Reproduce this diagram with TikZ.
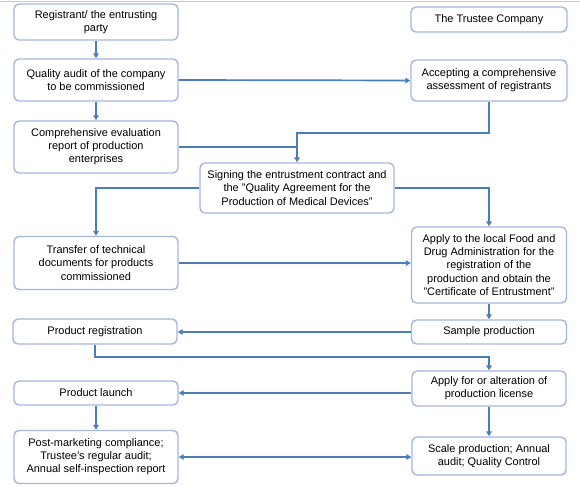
\documentclass[tikz,border=0pt]{standalone}
\usepackage{fontspec}
\setmainfont{Liberation Sans}
\usetikzlibrary{arrows.meta,calc}
\definecolor{boxline}{HTML}{A3B8DC}
\definecolor{arrline}{HTML}{4A7EBB}
\begin{document}
\begin{tikzpicture}[x=1bp,y=-1bp,
  box/.style={draw=boxline,line width=1.4bp,rounded corners=5bp,fill=white,
    align=center,inner sep=1bp,font=\fontsize{11}{13.2}\selectfont},
  arr/.style={draw=arrline,line width=1.7bp,-{Triangle[length=5bp,width=5.5bp]}},
  ln/.style={draw=arrline,line width=1.7bp},
  darr/.style={draw=arrline,line width=1.7bp,{Triangle[length=5bp,width=5.5bp]}-{Triangle[length=5bp,width=5.5bp]}}]
\useasboundingbox (0,0) rectangle (580,487);
\draw[gray!40,line width=0.8bp] (0,1.5) -- (580,1.5);

\node[box,minimum width=164bp,minimum height=36bp] (reg) at (96,22) {Registrant/ the entrusting\\party};
\node[box,minimum width=164bp,minimum height=42bp] (qa) at (96,80) {Quality audit of the company\\to be commissioned};
\node[box,minimum width=164bp,minimum height=52bp] (ce) at (96,147) {Comprehensive evaluation\\report of production\\enterprises};
\node[box,minimum width=194bp,minimum height=50bp] (sign) at (297,188) {Signing the entrustment contract and\\the "Quality Agreement for the\\Production of Medical Devices"};
\node[box,minimum width=156bp,minimum height=25bp] (trustee) at (489,19.5) {The Trustee Company};
\node[box,minimum width=156bp,minimum height=41bp] (acc) at (489,80.5) {Accepting a comprehensive\\assessment of registrants};
\node[box,minimum width=164bp,minimum height=53bp] (tr) at (96,263) {Transfer of technical\\documents for products\\commissioned};
\node[box,minimum width=155bp,minimum height=76bp] (apply) at (489,265) {Apply to the local Food and\\Drug Administration for the\\registration of the\\production and obtain the\\"Certificate of Entrustment"};
\node[box,minimum width=155bp,minimum height=24bp] (sample) at (489,332) {Sample production};
\node[box,minimum width=164bp,minimum height=25bp] (preg) at (95,331.5) {Product registration};
\node[box,minimum width=154bp,minimum height=35bp] (lic) at (489,388.5) {Apply for or alteration of\\production license};
\node[box,minimum width=164bp,minimum height=24bp] (launch) at (96,393) {Product launch};
\node[box,minimum width=164bp,minimum height=53bp] (post) at (96,457) {Post-marketing compliance;\\Trustee's regular audit;\\Annual self-inspection report};
\node[box,minimum width=154bp,minimum height=38bp] (scale) at (489,456) {Scale production; Annual\\audit; Quality Control};

\coordinate (j1) at (297,133);
\coordinate (j2) at (95,357);

\draw[arr] (reg) -- (qa);
\draw[arr] (qa) -- (ce);
\draw[arr] (qa.east) -- (acc.west);
\draw[arr] (acc.south) |- (j1) -- (sign.north);
\draw[ln] (ce.east) -- (ce.east -| j1);
\draw[arr] (sign.west) -| (tr.north);
\draw[arr] (sign.east) -| (apply.north);
\draw[arr] (tr.east) -- (tr.east -| apply.west);
\draw[arr] (apply) -- (sample);
\draw[arr] (sample.west) -- (sample.west -| preg.east);
\draw[arr] (preg.south) -- (j2) -| (lic.north);
\draw[arr] (lic.west |- launch.east) -- (launch.east);
\draw[arr] (launch) -- (post);
\draw[arr] (lic) -- (scale);
\draw[darr] (post.east) -- (post.east -| scale.west);
\end{tikzpicture}
\end{document}
